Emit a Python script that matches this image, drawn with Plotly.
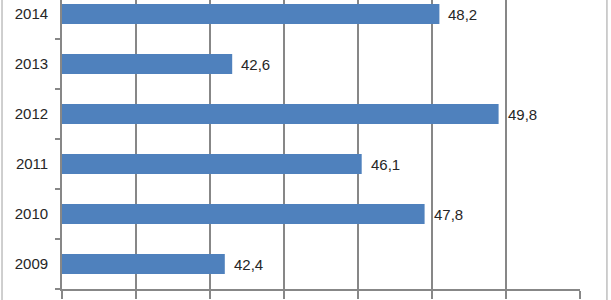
import plotly.graph_objects as go

years = ["2009", "2010", "2011", "2012", "2013", "2014"]
values = [42.4, 47.8, 46.1, 49.8, 42.6, 48.2]
labels = [f"{v:.1f}".replace(".", ",") for v in values]

BAR = "#4F81BD"
GRID = "#878787"
TXT = "#262626"
FONT = "Liberation Sans"

fig = go.Figure()
fig.add_trace(go.Bar(
    y=years, x=values, base=0, orientation="h",
    marker=dict(color=BAR, line=dict(width=0)),
    width=0.4, hoverinfo="skip",
))

for i, (v, t) in enumerate(zip(values, labels)):
    fig.add_annotation(x=v, y=i, xref="x", yref="y", text=t, showarrow=False,
                       xanchor="left", xshift=7,
                       font=dict(family=FONT, size=15, color=TXT))

fig.update_layout(
    width=611, height=300,
    margin=dict(l=62, r=31, t=0, b=11),
    paper_bgcolor="white", plot_bgcolor="white",
    showlegend=False,
    xaxis=dict(range=[38, 52], dtick=2, tick0=38, showgrid=True,
               gridcolor=GRID, gridwidth=1.7, showline=True, linecolor=GRID,
               linewidth=1.7, ticks="outside", ticklen=8, tickcolor=GRID,
               tickwidth=1.7, showticklabels=False, zeroline=False,
               fixedrange=True),
    yaxis=dict(range=[-0.5, 5.28], type="category", showline=True,
               linecolor=GRID, linewidth=1.7, ticks="outside", ticklen=5,
               tickwidth=1.7, tickcolor=GRID, tickson="boundaries",
               showgrid=False,
               tickfont=dict(family=FONT, size=15, color=TXT),
               ticklabelstandoff=9, fixedrange=True),
    shapes=[
        dict(type="line", xref="paper", yref="paper", x0=-0.1158, x1=-0.1158,
             y0=-0.05, y1=1.0, line=dict(color="#BFBFBF", width=1.5)),
        dict(type="line", xref="paper", yref="paper", x0=1.052, x1=1.052,
             y0=-0.05, y1=1.0, line=dict(color="#BFBFBF", width=1.5)),
    ],
)

fig.write_html("out.html")
